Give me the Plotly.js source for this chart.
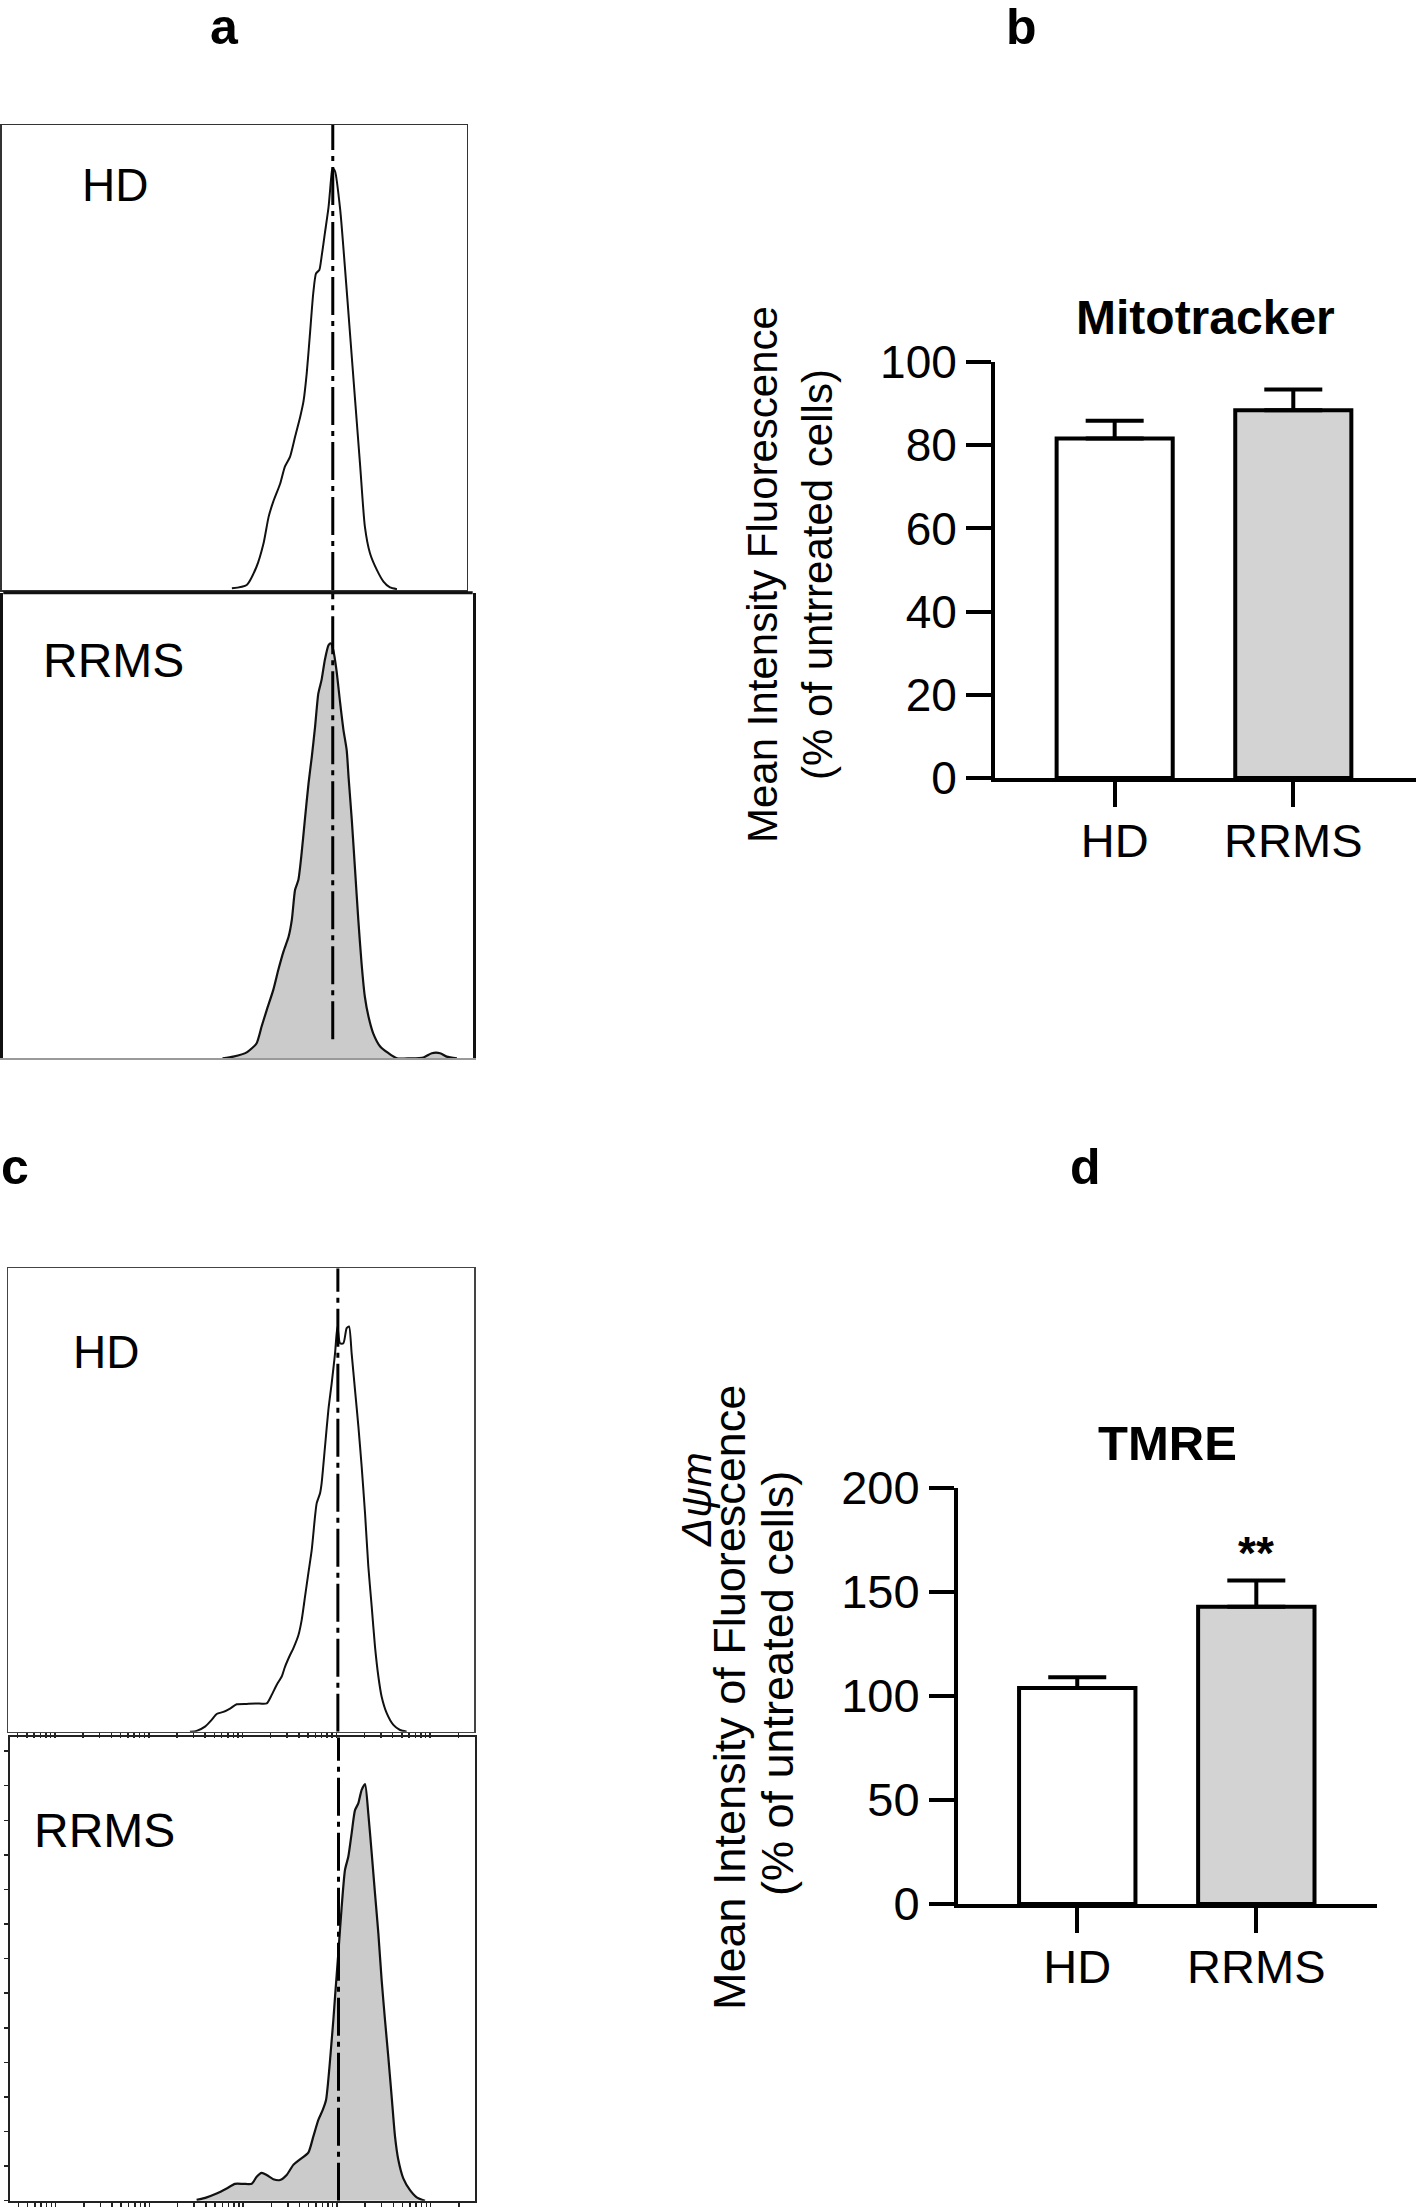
<!DOCTYPE html>
<html><head><meta charset="utf-8">
<script src="https://cdn.plot.ly/plotly-3.0.1.min.js"></script>
<style>html,body{margin:0;padding:0;background:#fff}#chart{width:1416px;height:2207px}</style>
</head><body><div id="chart"></div>
<script>
// ---------------- DATA ----------------
// Panel a: Mitotracker flow histograms (x: fluorescence channel 0-1000, y: % of mode)
const aHD_x = [495,527,548,563,574,584,599,609,620,631,642,649,656,663,670,676,683,688,695,703,710,712,717,728,738,749,760,771,781,792,807,821,835,850];
const aHD_y = [0.4,1.2,5.5,11.0,17.3,20.9,25.2,29.2,31.5,36.3,41.0,44.6,51.3,60.7,70.2,74.9,75.7,78.9,84.4,90.7,99.0,99.8,99.0,89.9,76.5,60.7,44.9,29.2,15.0,8.7,4.7,2.0,0.6,0.2];
const aRR_x = [475,498,527,548,559,570,584,595,606,617,624,631,638,645,652,660,667,674,681,688,695,703,708,713,720,728,735,742,746,753,760,767,774,781,789,799,814,832,850,878,907,925,943,957,979];
const aRR_y = [0,0.4,1.4,3.5,7.5,11.4,16.1,20.9,25.2,28.7,32.7,39.8,42.1,48.4,56.3,65.0,71.3,78.3,86.2,89.4,94.1,97.6,98.0,96.5,91.7,83.9,77.6,72.8,66.5,56.3,44.5,32.7,22.4,14.6,9.8,5.9,2.8,1.2,0,0,0.2,1.2,1.2,0.4,0];
const aMedian = 712;

// Panel c: TMRE flow histograms (x: fluorescence intensity, log scale; y: % of mode)
const cHD_x = [275,324,398,469,530,625,736,867,1107,1416,1811,2046,2312,2618,2838,3214,3483,3945,4276,4645,5035,5470,5929,6180,6714,6982,7586,8241,8933,9705,10280,10965,11912,12912,13677,14588,15849,17219,18664,20277,21979,23878,25882,28119,30479,34514,40644,47863,56364];
const cHD_y = [0,0.2,1.2,2.8,4.2,4.7,5.5,6.5,6.6,6.7,6.7,8.7,11.1,13.1,15.4,18.2,19.8,22.9,26.5,32.1,37.6,43.1,51.0,54.2,56.6,59.0,67.7,76.4,82.7,89.8,96.2,92.2,92.2,95.8,96.2,89.8,81.1,72.4,62.9,51.8,39.2,29.7,20.2,13.1,8.3,4.4,1.6,0.4,0];
const cRR_x = [319,408,521,667,818,1004,1233,1394,1575,1782,2099,2472,2911,3428,4036,4955,5598,6339,7047,7656,8091,8570,9162,9550,10351,11246,12194,13243,14361,15590,16904,18365,19953,21627,23496,25468,27669,29992,32584,35318,38371,41687,45186,51050,60256,70958,87096];
const cRR_y = [0.2,0.8,1.7,2.9,4.0,4.0,4.0,5.7,6.6,6.1,5.1,4.9,6.1,8.5,9.8,11.4,15.2,19.2,21.5,23.9,28.6,35.0,42.9,48.4,58.7,69.8,78.5,81.7,87.2,92.7,94.3,97.5,98.9,91.9,82.5,73.0,63.5,52.4,42.9,34.2,24.7,15.2,9.7,5.3,2.5,0.8,0];
const cMedian = 10400;

// Panels b and d: bar charts (mean + SEM, % of untreated cells)
const groups = ['HD', 'RRMS'];
const mitoMean = [81.6, 88.4];
const mitoSEM  = [4.3, 5.0];
const tmreMean = [103.8, 142.9];
const tmreSEM  = [5.2, 12.6];
const barColors = ['#ffffff', '#d3d3d3'];
const histLabels = ['HD', 'RRMS'];
const panelLetters = ['a', 'b', 'c', 'd'];

// ---------------- LAYOUT HELPERS ----------------
const W = 1416, H = 2207;
const FONT = 'Liberation Sans, Arial, Helvetica, sans-serif';
const dx = (a, b) => [a / W, b / W];
const dy = (top, bottom) => [1 - bottom / H, 1 - top / H];
const px = x => x / W;
const py = y => 1 - y / H;

const DASH = '38px,6px,5px,6px';

const traces = [
  // panel a
  {x: aHD_x, y: aHD_y, xaxis: 'x', yaxis: 'y', mode: 'lines', line: {color: '#111', width: 2, shape: 'spline', smoothing: 0.6}, hoverinfo: 'skip'},
  {x: aRR_x, y: aRR_y, xaxis: 'x2', yaxis: 'y2', mode: 'lines', fill: 'tozeroy', fillcolor: '#cbcbcb', line: {color: '#111', width: 2.2, shape: 'spline', smoothing: 0.6}, hoverinfo: 'skip'},
  {x: [aMedian, aMedian], y: [0, 110], xaxis: 'x', yaxis: 'y', mode: 'lines', line: {color: '#000', width: 3, dash: DASH}, hoverinfo: 'skip'},
  {x: [aMedian, aMedian], y: [4.5, 110], xaxis: 'x2', yaxis: 'y2', mode: 'lines', line: {color: '#000', width: 3, dash: DASH}, hoverinfo: 'skip'},
  // panel c
  {x: cHD_x, y: cHD_y, xaxis: 'x3', yaxis: 'y3', mode: 'lines', line: {color: '#111', width: 2, shape: 'spline', smoothing: 0.6}, hoverinfo: 'skip'},
  {x: cRR_x, y: cRR_y, xaxis: 'x4', yaxis: 'y4', mode: 'lines', fill: 'tozeroy', fillcolor: '#cbcbcb', line: {color: '#111', width: 2.2, shape: 'spline', smoothing: 0.6}, hoverinfo: 'skip'},
  {x: [cMedian, cMedian], y: [0, 110], xaxis: 'x3', yaxis: 'y3', mode: 'lines', line: {color: '#000', width: 3, dash: DASH}, hoverinfo: 'skip'},
  {x: [cMedian, cMedian], y: [0, 110], xaxis: 'x4', yaxis: 'y4', mode: 'lines', line: {color: '#000', width: 3, dash: DASH}, hoverinfo: 'skip'},
  // panel b
  {type: 'bar', x: groups, y: mitoMean, xaxis: 'x5', yaxis: 'y5', width: 0.65,
   marker: {color: barColors, line: {color: '#000', width: 4}},
   error_y: {type: 'data', symmetric: false, array: mitoSEM, arrayminus: [0, 0], color: '#000', thickness: 4, width: 29},
   hoverinfo: 'skip'},
  // panel d
  {type: 'bar', x: groups, y: tmreMean, xaxis: 'x6', yaxis: 'y6', width: 0.65,
   marker: {color: barColors, line: {color: '#000', width: 4}},
   error_y: {type: 'data', symmetric: false, array: tmreSEM, arrayminus: [0, 0], color: '#000', thickness: 4, width: 29},
   hoverinfo: 'skip'}
];

const histAx = (extra) => Object.assign({showgrid: false, zeroline: false, showticklabels: false, ticks: '', showline: true, mirror: true, linecolor: '#333', linewidth: 1.5, fixedrange: true}, extra);

const barX = (dom, range, size) => ({domain: dom, range: range, type: 'category', showgrid: false, zeroline: false,
  showline: true, linecolor: '#000', linewidth: 4, ticks: 'outside', ticklen: 25, tickwidth: 4, tickcolor: '#000',
  ticklabelstandoff: -6, tickfont: {family: FONT, size: size, color: '#000'}, fixedrange: true});
const barY = (anchor, dom, range, dtick, size) => ({anchor: anchor, domain: dom, range: range, dtick: dtick, tick0: 0, showgrid: false, zeroline: false,
  showline: true, linecolor: '#000', linewidth: 4, ticks: 'outside', ticklen: 25, tickwidth: 4, tickcolor: '#000',
  ticklabelstandoff: 0, tickfont: {family: FONT, size: size, color: '#000'}, fixedrange: true});

const ann = (text, x, y, size, extra) => Object.assign({text: text, x: px(x), y: py(y), xref: 'paper', yref: 'paper',
  xanchor: 'center', yanchor: 'middle', showarrow: false, font: {size: size, family: FONT, color: '#000'}}, extra || {});

const layout = {
  width: W, height: H, autosize: false, showlegend: false,
  margin: {l: 0, r: 0, t: 0, b: 0, pad: 0},
  paper_bgcolor: '#fff', plot_bgcolor: 'rgba(0,0,0,0)',
  font: {family: FONT, color: '#000'},
  // panel a
  xaxis:  histAx({domain: dx(1.7, 466.7), range: [0, 1000], anchor: 'y'}),
  yaxis:  histAx({domain: dy(125, 590), range: [0, 110], anchor: 'x'}),
  xaxis2: histAx({domain: dx(3.3, 472.7), range: [3.5, 1013], anchor: 'y2', mirror: false, linecolor: '#9a9a9a', linewidth: 2}),
  yaxis2: histAx({domain: dy(592.7, 1058.3), range: [0, 110], anchor: 'x2', linecolor: '#111', linewidth: 3}),
  // panel c
  xaxis3: histAx({domain: dx(8.3, 474), type: 'log', range: [0.502, 5.469], anchor: 'y3', linecolor: '#444',
                  ticks: 'outside', ticklen: 5, tickwidth: 1.5, tickcolor: '#222', dtick: 'D1'}),
  yaxis3: histAx({domain: dy(1268.3, 1731.7), range: [0, 110], anchor: 'x3', linecolor: '#444'}),
  xaxis4: histAx({domain: dx(10, 475), type: 'log', range: [0.513, 5.473], anchor: 'y4', linecolor: '#222', linewidth: 2,
                  ticks: 'outside', ticklen: 5, tickwidth: 1.5, tickcolor: '#222', dtick: 'D1'}),
  yaxis4: histAx({domain: dy(1737.3, 2200.7), range: [0, 110], anchor: 'x4', linecolor: '#222', linewidth: 2,
                  ticks: 'outside', ticklen: 4, tickwidth: 1.5, tickcolor: '#222', dtick: 8.21, tick0: 0}),
  // panel b
  xaxis5: Object.assign(barX(dx(995, 1416), [-0.67, 1.687], 47), {anchor: 'y5'}),
  yaxis5: barY('x5', dy(362, 778), [0, 100], 20, 46),
  // panel d
  xaxis6: Object.assign(barX(dx(958, 1377), [-0.666, 1.674], 47), {anchor: 'y6'}),
  yaxis6: barY('x6', dy(1488, 1904), [0, 200], 50, 47),
  shapes: [
    {type: 'line', xref: 'x2 domain', yref: 'y2 domain', x0: 0, x1: 1, y0: 1, y1: 1, line: {color: '#111', width: 3}}
  ],
  annotations: [
    // panel letters
    ann('<b>' + panelLetters[0] + '</b>', 224, 27, 50),
    ann('<b>' + panelLetters[1] + '</b>', 1021, 27, 50),
    ann('<b>' + panelLetters[2] + '</b>', 15, 1167, 50),
    ann('<b>' + panelLetters[3] + '</b>', 1085, 1167, 50),
    // histogram labels
    ann(histLabels[0], 115, 185, 46),
    ann(histLabels[1], 114, 660, 48),
    ann(histLabels[0], 106, 1352, 46),
    ann(histLabels[1], 104, 1830, 48),
    // bar chart titles
    ann('<b>Mitotracker</b>', 1205, 318, 48),
    ann('<b>TMRE</b>', 1167, 1443, 49),
    // y-axis titles
    ann('Mean Intensity Fluorescence<br>(% of untrreated cells)', 790, 575, 42, {textangle: -90}),
    ann('Mean Intensity of Fluorescence', 729, 1698, 45, {textangle: -90}),
    ann('(% of untreated cells)', 777, 1684, 45, {textangle: -90}),
    ann('<i>Δψm</i>', 696, 1500, 42, {textangle: -90}),
    // significance
    {text: '<b>**</b>', x: groups[1], y: tmreMean[1] + tmreSEM[1] + 16, xref: 'x6', yref: 'y6', xanchor: 'center', yanchor: 'middle',
     showarrow: false, yshift: -6, font: {size: 46, family: FONT, color: '#000'}}
  ]
};

Plotly.newPlot('chart', traces, layout, {staticPlot: true, displayModeBar: false});
</script>
</body></html>
